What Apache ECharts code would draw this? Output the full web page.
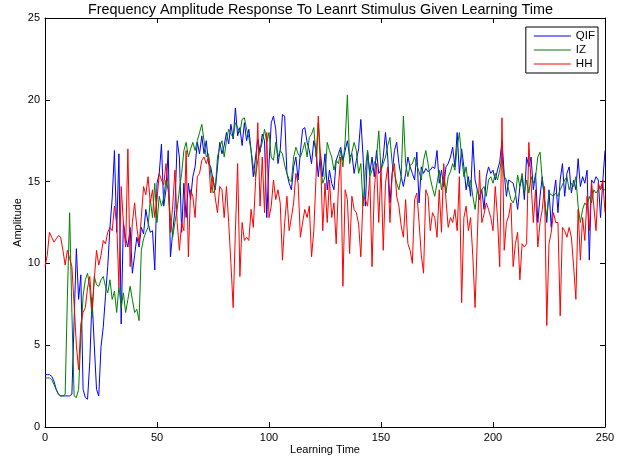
<!DOCTYPE html>
<html>
<head>
<meta charset="utf-8">
<script src="https://cdn.jsdelivr.net/npm/echarts@6/dist/echarts.min.js"></script>
<style>
  html, body { margin: 0; padding: 0; background: #fff; }
  #chart { width: 629px; height: 457px; }
</style>
</head>
<body>
<div id="chart"></div>
<script>
// values, one per learning-time step (0..250)
var qif = [
    3.2, 3.2, 3.2, 3.1, 2.8, 2.3, 2.0, 1.9, 1.9, 1.9, 1.9, 1.9, 2.0, 6.5, 10.9, 7.8, 9.3, 2.3, 1.8, 1.7,
    4.0, 7.9, 5.0, 2.3, 1.9, 4.9, 6.1, 8.0, 9.8, 12.2, 14.0, 16.9, 11.9, 16.7, 6.3, 12.5, 11.5, 11.0, 12.2, 9.4,
    10.5, 11.6, 11.0, 12.2, 11.8, 13.3, 12.5, 11.9, 12.0, 9.6, 14.9, 15.5, 17.3, 13.5, 14.5, 16.9, 10.4, 11.9, 13.3, 17.5,
    16.5, 11.9, 14.9, 12.8, 14.9, 13.9, 15.3, 15.9, 17.4, 16.7, 17.8, 16.7, 17.5, 16.1, 15.9, 15.1, 14.5, 15.9, 17.4, 16.7,
    17.2, 18.0, 17.3, 18.5, 17.6, 19.5, 17.8, 18.3, 17.2, 18.6, 17.5, 18.2, 16.9, 15.3, 16.5, 17.6, 16.8, 17.9, 17.5, 12.8,
    16.1, 18.6, 19.0, 18.2, 16.1, 16.9, 19.1, 19.0, 15.5, 14.9, 14.5, 15.9, 16.5, 15.1, 16.8, 18.2, 18.3, 17.4, 16.9, 16.1,
    17.5, 16.9, 15.3, 16.7, 15.3, 16.7, 14.5, 15.7, 14.9, 14.5, 16.3, 16.7, 17.1, 16.3, 16.9, 17.5, 16.5, 16.7, 15.5, 16.3,
    17.0, 18.8, 16.5, 13.5, 16.9, 15.5, 16.5, 15.3, 16.9, 15.5, 15.7, 16.5, 18.0, 16.5, 13.7, 15.5, 16.9, 17.4, 16.1, 15.3,
    14.7, 15.5, 16.5, 15.9, 15.5, 15.1, 16.8, 13.7, 15.9, 15.5, 15.8, 15.6, 15.7, 15.9, 15.8, 16.9, 14.9, 15.7, 14.7, 15.9,
    16.1, 16.5, 17.1, 15.9, 18.0, 15.5, 17.0, 15.9, 14.5, 15.3, 14.1, 17.5, 15.1, 14.5, 13.9, 14.5, 13.3, 15.3, 15.9, 15.5,
    15.7, 15.1, 15.7, 16.2, 17.5, 15.5, 14.1, 15.1, 15.0, 14.9, 14.3, 13.3, 14.7, 15.3, 13.9, 16.5, 15.9, 16.5, 14.5, 15.5,
    12.5, 14.1, 15.3, 13.9, 12.5, 14.5, 12.2, 14.1, 15.1, 13.1, 15.1, 16.1, 14.1, 15.5, 15.9, 14.3, 15.1, 14.5, 16.4, 14.7,
    15.3, 14.9, 15.7, 10.2, 15.1, 14.9, 15.3, 15.1, 12.8, 15.0, 16.9
];
var iz = [
    3.0, 3.0, 3.0, 2.9, 2.6, 2.3, 2.0, 1.9, 1.9, 2.0, 8.0, 13.1, 7.0, 1.9, 1.8, 2.3, 5.5, 8.0, 9.0, 9.4,
    8.5, 6.7, 9.2, 8.7, 8.6, 9.0, 9.2, 8.6, 8.2, 9.0, 7.8, 8.3, 7.0, 8.6, 7.3, 8.2, 7.0, 7.8, 8.6, 7.8,
    7.0, 7.2, 6.5, 10.8, 11.5, 11.9, 12.2, 13.9, 12.8, 14.9, 12.5, 14.1, 13.5, 14.0, 15.1, 14.5, 12.8, 11.6, 12.5, 13.3,
    14.5, 15.5, 16.9, 17.4, 16.5, 17.0, 17.4, 16.9, 17.5, 18.0, 18.5, 17.5, 16.5, 16.7, 15.5, 14.3, 14.5, 16.5, 17.1, 17.5,
    16.5, 17.5, 18.2, 17.9, 17.7, 18.6, 18.3, 18.0, 18.8, 18.9, 18.2, 17.7, 16.9, 15.9, 15.3, 16.3, 16.9, 17.4, 18.2, 17.4,
    18.0, 16.5, 16.3, 17.4, 16.5, 16.9, 16.7, 16.0, 15.5, 15.1, 15.0, 16.5, 17.1, 16.7, 16.5, 16.9, 17.4, 16.5, 17.7, 17.9,
    18.3, 16.5, 18.6, 15.9, 14.9, 15.3, 17.4, 16.9, 16.5, 15.7, 16.3, 16.1, 16.9, 15.9, 17.5, 20.3, 16.1, 16.8, 17.4, 16.9,
    15.5, 16.1, 13.5, 15.7, 16.9, 15.3, 15.7, 16.1, 16.5, 18.1, 15.7, 16.1, 16.5, 17.2, 17.7, 16.1, 15.5, 14.9, 14.5, 15.3,
    19.0, 16.1, 15.3, 16.0, 16.1, 16.5, 16.0, 15.6, 15.1, 16.3, 16.9, 16.1, 15.2, 14.6, 14.1, 14.9, 15.7, 14.5, 15.3, 14.3,
    15.3, 15.6, 16.1, 15.7, 17.1, 18.0, 16.5, 15.3, 15.9, 14.7, 15.1, 14.1, 13.3, 14.5, 14.1, 14.5, 14.7, 14.1, 15.1, 15.3,
    14.9, 15.5, 15.1, 15.7, 16.5, 15.3, 15.1, 14.5, 13.9, 13.7, 14.1, 15.4, 14.7, 15.5, 14.3, 15.1, 14.3, 15.3, 14.9, 15.3,
    16.5, 16.8, 15.1, 13.9, 12.8, 14.3, 14.2, 14.1, 14.3, 14.1, 14.5, 14.8, 15.1, 15.3, 14.5, 14.9, 14.7, 15.3, 13.5, 12.5,
    13.3, 13.7, 13.5, 14.1, 13.7, 14.5, 14.3, 14.5, 14.7, 14.5, 14.5
];
var hh = [
    9.8, 10.5, 11.9, 11.6, 11.3, 11.5, 11.7, 11.6, 10.8, 9.9, 10.8, 10.3, 9.8, 7.5, 5.0, 3.5, 6.3, 7.0, 7.3, 8.5,
    9.2, 7.2, 9.0, 10.8, 9.9, 10.5, 11.4, 11.2, 11.9, 12.2, 12.0, 13.5, 12.5, 8.6, 14.7, 12.5, 11.0, 17.0, 9.8, 12.5,
    13.7, 12.2, 11.2, 12.8, 14.7, 14.2, 15.3, 13.7, 14.5, 12.8, 13.9, 15.5, 15.1, 14.8, 16.1, 14.7, 11.9, 13.5, 15.7, 12.5,
    10.8, 12.5, 12.0, 16.9, 10.4, 14.5, 14.1, 12.8, 15.3, 15.5, 16.3, 16.5, 16.1, 16.5, 14.3, 15.3, 14.0, 13.1, 14.7, 14.5,
    12.8, 14.7, 12.5, 10.0, 7.3, 12.0, 16.1, 9.2, 12.5, 11.4, 11.6, 11.4, 13.3, 12.2, 15.0, 18.6, 13.5, 16.5, 13.1, 18.0,
    12.8, 13.5, 15.1, 13.9, 14.5, 13.7, 10.2, 12.5, 14.1, 12.0, 12.8, 13.7, 15.5, 14.9, 11.6, 12.5, 13.3, 12.8, 13.5, 10.4,
    12.0, 15.3, 19.0, 16.5, 12.0, 14.9, 12.5, 15.1, 12.8, 13.7, 11.2, 14.7, 16.5, 8.6, 14.5, 13.9, 10.6, 14.1, 13.3, 13.1,
    12.4, 10.4, 14.1, 13.9, 13.5, 15.3, 9.8, 14.5, 16.1, 12.5, 15.9, 10.8, 14.9, 15.9, 12.5, 15.5, 16.1, 14.1, 13.5, 12.3,
    11.6, 13.9, 11.2, 10.8, 10.0, 13.9, 14.3, 12.5, 10.5, 9.4, 14.5, 14.1, 12.0, 13.1, 12.8, 11.6, 14.5, 11.9, 16.1, 13.9,
    12.2, 12.8, 12.5, 13.3, 12.0, 15.3, 7.6, 12.8, 13.5, 12.0, 12.8, 10.4, 7.3, 11.6, 15.7, 12.5, 13.0, 13.7, 13.3, 12.8,
    12.0, 14.7, 12.8, 9.8, 18.9, 10.8, 12.5, 12.9, 13.7, 9.8, 11.2, 11.9, 9.0, 11.2, 11.0, 11.2, 17.4, 14.9, 12.5, 14.5,
    11.0, 12.5, 13.3, 14.7, 6.2, 11.2, 11.9, 13.1, 12.5, 12.5, 6.8, 12.2, 12.0, 11.6, 12.2, 11.6, 9.8, 7.8, 13.3, 10.2,
    12.8, 11.4, 14.1, 12.0, 15.0, 13.5, 12.0, 14.9, 14.5, 15.1, 13.1
];
var xTicks = [0, 50, 100, 150, 200, 250];
var yTicks = [0, 5, 10, 15, 20, 25];

var chart = echarts.init(document.getElementById('chart'));
var font = 'Liberation Sans, Arial, Helvetica, sans-serif';

function toPoints(list) {
    var pts = [];
    for (var i = 0; i < list.length; i++) {
        pts.push([i, list[i]]);
    }
    return pts;
}

function lineSeries(name, color, list) {
    return {
        name: name,
        type: 'line',
        symbol: 'none',
        xAxisIndex: 0,
        yAxisIndex: 0,
        lineStyle: { color: color, width: 1 },
        itemStyle: { color: color },
        data: toPoints(list)
    };
}

var frame = {
    axisLine: { show: true, onZero: false, lineStyle: { color: '#000', width: 1 } },
    axisTick: { show: true, inside: true, length: 5, lineStyle: { color: '#000' } },
    splitLine: { show: false }
};

var option = {
    animation: false,
    backgroundColor: '#fff',
    textStyle: { fontFamily: font },
    title: {
        text: 'Frequency Amplitude Response To Leanrt Stimulus Given Learning Time',
        left: 83,
        top: 0,
        padding: [3, 5, 2, 5],
        textStyle: { fontSize: 14.4, fontWeight: 'normal', color: '#000', fontFamily: font }
    },
    legend: {
        data: ['QIF', 'IZ', 'HH'],
        orient: 'vertical',
        right: 31,
        top: 27,
        padding: [3, 3, 3, 8],
        itemGap: 2,
        itemWidth: 37,
        itemHeight: 1,
        icon: 'rect',
        borderColor: '#000',
        borderWidth: 1,
        backgroundColor: '#fff',
        textStyle: { fontSize: 11.5, color: '#000', fontFamily: font, lineHeight: 11 }
    },
    grid: { left: 45, right: 24, top: 18, bottom: 30, outerBoundsMode: 'none' },
    xAxis: [
        Object.assign({
            type: 'value', min: 0, max: 250, interval: 50, position: 'bottom',
            name: 'Learning Time', nameLocation: 'middle', nameGap: 17, nameMoveOverlap: false,
            nameTextStyle: { fontSize: 11, color: '#000', fontFamily: font },
            axisLabel: { fontSize: 11, color: '#000', margin: 5, fontFamily: font,
                customValues: xTicks }
        }, frame),
        Object.assign({
            type: 'value', min: 0, max: 250, interval: 50, position: 'top',
            axisLabel: { show: false }
        }, frame)
    ],
    yAxis: [
        Object.assign({
            type: 'value', min: 0, max: 25, interval: 5, position: 'left',
            name: 'Amplitude', nameLocation: 'middle', nameGap: 22, nameMoveOverlap: false,
            nameTextStyle: { fontSize: 11, color: '#000', fontFamily: font },
            axisLabel: { fontSize: 11, color: '#000', margin: 5, fontFamily: font,
                customValues: yTicks }
        }, frame),
        Object.assign({
            type: 'value', min: 0, max: 25, interval: 5, position: 'right',
            axisLabel: { show: false }
        }, frame)
    ],
    series: [
        lineSeries('QIF', '#0000ff', qif),
        lineSeries('IZ', '#008000', iz),
        lineSeries('HH', '#ff0000', hh)
    ]
};
chart.setOption(option);
</script>
</body>
</html>
